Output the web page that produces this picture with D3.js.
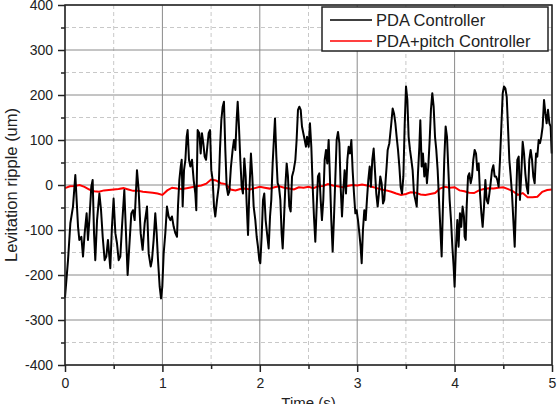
<!DOCTYPE html>
<html>
<head>
<style>
body { margin: 0; background: white; }
svg { display: block; font-family: "Liberation Sans", Arial, sans-serif; }
</style>
<script src="https://d3js.org/d3.v7.min.js"></script>
</head>
<body>
<svg width="559" height="404"></svg>
<script>
// PDA controller levitation ripple, [time s, um]
const pdaSeries = [
  [0,-250],[0.031,-167],[0.055,-85],[0.082,-48],[0.106,22],[0.134,-93],[0.147,-122],[0.168,-115],[0.185,-159],
  [0.202,-107],[0.222,-63],[0.236,-122],[0.25,-78],[0.27,-4],[0.284,11],[0.298,-107],[0.311,-167],[0.329,-78],
  [0.353,-19],[0.37,-56],[0.387,-115],[0.407,-167],[0.424,-159],[0.441,-122],[0.465,-185],[0.482,-93],[0.499,-30],
  [0.517,-107],[0.534,-130],[0.551,-167],[0.568,-159],[0.585,-93],[0.609,-11],[0.626,-107],[0.643,-200],[0.66,-137],
  [0.681,-63],[0.698,-56],[0.715,-78],[0.739,33],[0.756,-11],[0.777,-107],[0.797,-144],[0.818,-85],[0.842,-48],
  [0.859,-152],[0.88,-181],[0.893,-167],[0.91,-122],[0.927,-63],[0.941,-107],[0.955,-167],[0.972,-226],[0.986,-252],
  [0.999,-226],[1.013,-152],[1.03,-107],[1.047,-48],[1.064,-70],[1.082,-78],[1.098,-70],[1.116,-93],[1.133,-107],
  [1.15,-115],[1.16,-48],[1.174,11],[1.188,41],[1.198,56],[1.208,-48],[1.222,33],[1.236,56],[1.249,107],[1.259,122],
  [1.273,56],[1.287,41],[1.304,56],[1.321,11],[1.338,-19],[1.348,-56],[1.362,122],[1.379,115],[1.393,70],[1.406,115],
  [1.42,93],[1.434,63],[1.448,56],[1.461,85],[1.475,115],[1.489,122],[1.502,33],[1.516,11],[1.53,-48],[1.543,-70],
  [1.561,-33],[1.578,-4],[1.591,78],[1.605,144],[1.619,174],[1.632,185],[1.646,78],[1.66,-4],[1.674,-22],[1.687,-15],
  [1.704,41],[1.721,78],[1.735,100],[1.749,78],[1.762,144],[1.773,185],[1.786,130],[1.8,56],[1.814,-4],[1.827,-19],
  [1.841,59],[1.855,19],[1.865,-41],[1.879,-111],[1.892,-19],[1.909,70],[1.923,19],[1.937,-48],[1.954,-78],
  [1.968,-115],[1.981,-137],[1.995,-167],[2.005,-174],[2.019,-115],[2.033,-33],[2.046,-19],[2.06,-78],[2.074,-107],
  [2.091,-141],[2.105,-70],[2.118,-33],[2.132,48],[2.146,107],[2.156,148],[2.17,63],[2.183,4],[2.197,-4],[2.211,-33],
  [2.224,-107],[2.235,-141],[2.248,-78],[2.262,-4],[2.276,48],[2.289,19],[2.303,-48],[2.317,-59],[2.331,19],
  [2.348,33],[2.365,56],[2.378,100],[2.392,167],[2.406,174],[2.42,167],[2.433,130],[2.447,115],[2.461,100],
  [2.474,85],[2.485,107],[2.502,85],[2.515,137],[2.529,85],[2.543,-4],[2.556,-70],[2.57,-126],[2.584,-48],
  [2.597,19],[2.611,26],[2.625,-33],[2.638,-78],[2.652,-33],[2.666,56],[2.68,78],[2.693,48],[2.707,100],[2.721,11],
  [2.734,-78],[2.748,-148],[2.762,-70],[2.776,19],[2.789,100],[2.803,118],[2.817,93],[2.83,-4],[2.844,-70],
  [2.858,-11],[2.871,33],[2.885,-19],[2.899,56],[2.912,85],[2.926,70],[2.94,100],[2.953,33],[2.967,-19],[2.981,-63],
  [2.994,-56],[3.008,-78],[3.022,-107],[3.035,-137],[3.046,-174],[3.059,-100],[3.073,-56],[3.087,-78],[3.1,-33],
  [3.114,11],[3.128,41],[3.141,-4],[3.155,56],[3.169,81],[3.182,33],[3.196,-19],[3.21,-48],[3.223,-19],[3.237,19],
  [3.251,4],[3.265,-41],[3.278,-33],[3.292,11],[3.302,41],[3.313,78],[3.33,93],[3.347,130],[3.364,170],[3.378,159],
  [3.392,137],[3.405,107],[3.419,78],[3.433,41],[3.446,-4],[3.46,-19],[3.474,19],[3.487,130],[3.501,219],[3.515,189],
  [3.528,107],[3.542,78],[3.556,56],[3.569,33],[3.583,-19],[3.597,-33],[3.611,-48],[3.624,26],[3.638,85],[3.648,144],
  [3.662,41],[3.675,70],[3.689,19],[3.703,48],[3.716,4],[3.73,41],[3.744,100],[3.757,167],[3.771,204],[3.785,174],
  [3.799,107],[3.812,78],[3.826,33],[3.84,-33],[3.853,-93],[3.867,-159],[3.881,-41],[3.894,56],[3.908,130],
  [3.922,107],[3.936,33],[3.949,-33],[3.963,-78],[3.977,-137],[3.99,-181],[4.0,-226],[4.014,-137],[4.028,-78],
  [4.041,-137],[4.055,-63],[4.068,-93],[4.082,-48],[4.096,-70],[4.103,-115],[4.114,-122],[4.124,-48],[4.138,19],
  [4.151,26],[4.165,4],[4.179,19],[4.192,56],[4.206,78],[4.22,70],[4.233,33],[4.247,48],[4.261,-19],[4.275,-63],
  [4.288,-93],[4.302,-48],[4.316,11],[4.329,-33],[4.343,-41],[4.357,-19],[4.37,4],[4.384,33],[4.398,44],[4.411,19],
  [4.425,19],[4.439,11],[4.452,-4],[4.466,56],[4.48,130],[4.494,204],[4.507,219],[4.521,215],[4.535,196],[4.548,130],
  [4.562,56],[4.576,19],[4.589,-19],[4.603,-78],[4.617,-137],[4.63,-41],[4.644,56],[4.658,63],[4.671,-33],[4.685,26],
  [4.699,96],[4.713,70],[4.726,26],[4.74,-4],[4.754,-19],[4.767,56],[4.781,78],[4.795,56],[4.808,19],[4.822,4],
  [4.836,70],[4.849,63],[4.863,100],[4.877,93],[4.89,107],[4.904,130],[4.918,189],[4.932,159],[4.945,137],
  [4.959,167],[4.973,137],[4.986,130],[4.997,70]
];

// PDA+pitch controller levitation ripple, [time s, um]
const pitchSeries = [
  [0,-7],[0.05,-3],[0.1,-2],[0.15,0],[0.2,-4],[0.25,-10],[0.3,-14],[0.35,-15],[0.4,-12],[0.45,-11],
  [0.5,-10],[0.55,-9],[0.6,-7],[0.65,-10],[0.7,-13],[0.75,-13],[0.8,-15],[0.85,-16],[0.9,-17],[0.95,-19],
  [1.0,-22],[1.05,-12],[1.1,-6],[1.15,-8],[1.2,-9],[1.25,-7],[1.3,-5],[1.35,-3],[1.4,-1],[1.45,3],
  [1.5,12],[1.55,10],[1.6,4],[1.65,2],[1.7,-10],[1.75,-12],[1.8,-9],[1.85,-8],[1.9,-10],[1.95,-7],
  [2.0,-4],[2.05,-6],[2.1,-8],[2.15,-5],[2.2,-3],[2.25,-6],[2.3,-8],[2.35,-10],[2.4,-5],[2.45,-6],
  [2.5,-4],[2.55,-7],[2.6,-3],[2.65,-2],[2.7,2],[2.75,-1],[2.8,-3],[2.85,-5],[2.9,-2],[2.95,0],
  [3.0,-1],[3.05,1],[3.1,-1],[3.15,-4],[3.2,-7],[3.25,-10],[3.3,-12],[3.35,-15],[3.4,-19],[3.45,-22],
  [3.5,-20],[3.55,-16],[3.6,-17],[3.65,-21],[3.7,-22],[3.75,-20],[3.8,-18],[3.85,-8],[3.9,-4],[3.95,-6],
  [4.0,-5],[4.05,-12],[4.1,-14],[4.15,-17],[4.2,-18],[4.25,-12],[4.3,-9],[4.35,-7],[4.4,-8],[4.45,-6],
  [4.5,-5],[4.55,-9],[4.6,-14],[4.65,-22],[4.7,-18],[4.75,-27],[4.8,-27],[4.85,-26],[4.9,-15],[4.95,-11],
  [5.0,-10]
];

const seriesNames = ['PDA Controller', 'PDA+pitch Controller'];
const seriesColors = ['#000000', '#ff0000'];
const xMajor = [0, 1, 2, 3, 4, 5];
const xMinor = [0.5, 1.5, 2.5, 3.5, 4.5];
const yMajor = [-400, -300, -200, -100, 0, 100, 200, 300, 400];
const yMinor = [-350, -250, -150, -50, 50, 150, 250, 350];

const svg = d3.select('svg');
const margin = { top: 5, right: 7, bottom: 39, left: 65 };
const width = 559 - margin.left - margin.right;
const height = 404 - margin.top - margin.bottom;
const g = svg.append('g').attr('transform', `translate(${margin.left},${margin.top})`);

const x = d3.scaleLinear().domain([0, 5]).range([0, width]);
const y = d3.scaleLinear().domain([-400, 400]).range([height, 0]);

// minor grid (dashed)
g.selectAll('.vminor').data(xMinor).enter().append('line')
  .attr('x1', d => x(d)).attr('x2', d => x(d)).attr('y1', 0).attr('y2', height)
  .attr('stroke', '#c8c8c8').attr('stroke-dasharray', '4,3');
g.selectAll('.hminor').data(yMinor).enter().append('line')
  .attr('x1', 0).attr('x2', width).attr('y1', d => y(d)).attr('y2', d => y(d))
  .attr('stroke', '#c8c8c8').attr('stroke-dasharray', '4,3');

// major grid (solid)
g.selectAll('.vmajor').data(xMajor).enter().append('line')
  .attr('x1', d => x(d)).attr('x2', d => x(d)).attr('y1', 0).attr('y2', height)
  .attr('stroke', '#8a8a8a');
g.selectAll('.hmajor').data(yMajor).enter().append('line')
  .attr('x1', 0).attr('x2', width).attr('y1', d => y(d)).attr('y2', d => y(d))
  .attr('stroke', '#8a8a8a');

// lines
const line = d3.line().x(d => x(d[0])).y(d => y(d[1]));
g.append('path').datum(pitchSeries)
  .attr('d', line).attr('fill', 'none').attr('stroke', seriesColors[1]).attr('stroke-width', 2);
g.append('path').datum(pdaSeries)
  .attr('d', line).attr('fill', 'none').attr('stroke', seriesColors[0]).attr('stroke-width', 2)
  .attr('stroke-linejoin', 'round');

// frame
g.append('rect').attr('width', width).attr('height', height)
  .attr('fill', 'none').attr('stroke', '#222').attr('stroke-width', 1.5);

// axes
const axisFont = 14;
g.append('g').attr('transform', `translate(0,${height})`)
  .call(d3.axisBottom(x).tickValues(xMajor).tickSize(7).tickPadding(6).tickFormat(d3.format('d')));
g.append('g').attr('transform', `translate(0,${height})`)
  .call(d3.axisBottom(x).tickValues(xMinor).tickSize(4).tickFormat(''));
const yAx = g.append('g')
  .call(d3.axisLeft(y).tickValues(yMajor).tickSize(7).tickPadding(5).tickFormat(d3.format('d')));
g.append('g')
  .call(d3.axisLeft(y).tickValues(yMinor).tickSize(4).tickFormat(''));
g.selectAll('.domain').remove();
g.selectAll('.tick line').attr('stroke', '#222').attr('stroke-width', 1.5);
g.selectAll('.tick text').attr('font-size', axisFont).attr('fill', '#222')
  .attr('font-family', '"Liberation Sans", Arial, sans-serif');
yAx.selectAll('.tick text').text(d => d < 0 ? '-' + Math.abs(d) : d);

// axis titles
svg.append('text')
  .attr('transform', `translate(17,${margin.top + height / 2}) rotate(-90)`)
  .attr('text-anchor', 'middle').attr('font-size', 16.5).attr('fill', '#222')
  .text('Levitation ripple (um)');
svg.append('text')
  .attr('x', margin.left + width / 2).attr('y', 408)
  .attr('text-anchor', 'middle').attr('font-size', 15).attr('fill', '#222')
  .text('Time (s)');

// legend
const legend = svg.append('g').attr('transform', 'translate(322,7)');
legend.append('rect').attr('width', 226).attr('height', 44)
  .attr('fill', 'white').attr('stroke', '#222').attr('stroke-width', 1.5);
const rows = legend.selectAll('.row').data(seriesNames).enter().append('g')
  .attr('transform', (d, i) => `translate(0,${13 + i * 21})`);
rows.append('line').attr('x1', 8).attr('x2', 50)
  .attr('stroke', (d, i) => seriesColors[i]).attr('stroke-width', 1.5);
rows.append('text').attr('x', 54).attr('y', 6)
  .attr('font-size', 16.5).attr('fill', '#222').text(d => d);
</script>
</body>
</html>
